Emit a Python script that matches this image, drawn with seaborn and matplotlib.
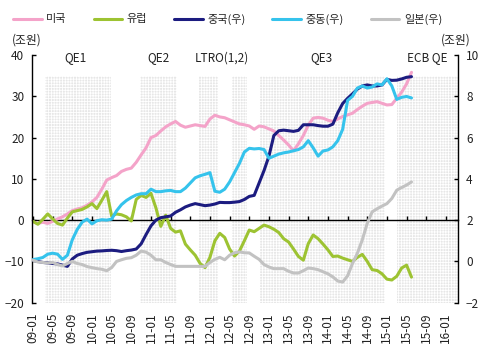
import numpy as np
import pandas as pd
import matplotlib
matplotlib.use("Agg")
import matplotlib.pyplot as plt
import seaborn as sns

# ---------------- data (monthly, 2009-01 .. 2015-06) ----------------
usa = [-0.4, -0.8, -0.5, -0.8, -0.3, 0.3, 0.8, 1.5, 2.3, 2.7, 3.0, 3.6, 4.4, 5.5, 7.5, 9.7,
       10.3, 10.8, 11.8, 12.3, 12.6, 14.0, 15.8, 17.5, 20.0, 20.5, 21.6, 22.6, 23.3, 23.9,
       23.0, 22.5, 22.8, 23.1, 22.9, 22.7, 24.5, 25.4, 25.0, 24.8, 24.3, 23.8, 23.3, 23.1,
       22.8, 22.0, 22.8, 22.6, 22.1, 21.6, 20.5, 19.4, 18.2, 16.8, 18.5, 20.5, 23.0, 24.7,
       24.9, 24.7, 24.2, 23.9, 24.5, 25.1, 25.5, 25.9, 26.8, 27.6, 28.3, 28.5, 28.7, 28.3,
       27.9, 28.0, 29.5, 31.0, 33.0, 35.8]
europe = [-0.3, -1.0, 0.2, 1.5, 0.3, -0.8, -1.2, 0.5, 2.0, 2.3, 2.6, 3.2, 4.0, 2.8, 4.8, 6.9,
          1.0, 1.5, 1.3, 0.8, -0.2, 5.0, 6.0, 5.5, 6.5, 3.0, -1.5, 1.2, -2.0, -2.9,
          -2.6, -5.8, -7.2, -8.5, -10.5, -11.5, -9.0, -5.0, -3.2, -4.2, -7.0, -8.7, -7.5, -5.0,
          -2.4, -2.8, -2.0, -1.2, -1.6, -2.2, -3.0, -4.5, -5.3, -7.0, -8.8, -9.7, -5.7, -3.6,
          -4.5, -5.8, -7.2, -8.8, -8.7, -9.2, -9.6, -10.0, -9.0, -8.3, -10.0, -12.0, -12.2, -13.0,
          -14.3, -14.5, -13.6, -11.6, -10.9, -13.8]
china = [0.06, 0.0, -0.05, -0.07, -0.1, -0.12, -0.18, -0.24, 0.12, 0.3, 0.38, 0.44, 0.47, 0.5,
         0.51, 0.53, 0.54, 0.52, 0.48, 0.52, 0.55, 0.6, 0.85, 1.3, 1.72, 2.0, 2.12, 2.16, 2.2,
         2.38, 2.5, 2.64, 2.73, 2.8, 2.75, 2.7, 2.73, 2.78, 2.86, 2.85, 2.85, 2.87, 2.9, 3.0,
         3.15, 3.2, 3.8, 4.4, 5.1, 6.1, 6.33, 6.36, 6.33, 6.3, 6.35, 6.62, 6.62, 6.62, 6.58,
         6.55, 6.55, 6.65, 7.2, 7.65, 7.9, 8.12, 8.35, 8.5, 8.55, 8.5, 8.5, 8.55, 8.82, 8.77,
         8.78, 8.84, 8.92, 8.95]
mideast = [0.09, 0.13, 0.19, 0.35, 0.4, 0.35, 0.1, 0.3, 1.05, 1.55, 1.9, 2.05, 1.82, 1.97,
           2.02, 2.0, 2.05, 2.45, 2.75, 2.95, 3.1, 3.22, 3.28, 3.28, 3.5, 3.38, 3.38, 3.42,
           3.44, 3.38, 3.38, 3.55, 3.8, 4.05, 4.15, 4.22, 4.3, 3.4, 3.35, 3.5, 3.85, 4.3, 4.75,
           5.3, 5.48, 5.45, 5.47, 5.42, 5.0, 5.1, 5.2, 5.26, 5.3, 5.36, 5.42, 5.55, 5.85, 5.5,
           5.1, 5.35, 5.4, 5.55, 5.85, 6.4, 7.8, 8.0, 8.4, 8.5, 8.4, 8.45, 8.6, 8.55, 8.85,
           8.5, 7.85, 7.95, 7.99, 7.92]
japan = [0.06, -0.03, -0.05, -0.08, -0.05, -0.15, -0.22, -0.1, 0.0, -0.1, -0.15, -0.25, -0.3,
         -0.35, -0.38, -0.45, -0.3, 0.0, 0.08, 0.15, 0.18, 0.3, 0.5, 0.45, 0.3, 0.08, 0.08,
         -0.05, -0.15, -0.24, -0.24, -0.24, -0.24, -0.24, -0.24, -0.24, -0.05, 0.1, 0.2, 0.08,
         0.3, 0.42, 0.46, 0.42, 0.41, 0.25, 0.1, -0.15, -0.27, -0.35, -0.35, -0.35, -0.48,
         -0.56, -0.56, -0.45, -0.32, -0.35, -0.4, -0.5, -0.6, -0.75, -0.95, -1.0, -0.7, -0.1,
         0.4, 1.05, 1.85, 2.4, 2.55, 2.68, 2.8, 3.05, 3.45, 3.58, 3.7, 3.85]

months = list(range(len(usa)))
tick_labels = ["09-01", "09-05", "09-09", "10-01", "10-05", "10-09", "11-01", "11-05",
               "11-09", "12-01", "12-05", "12-09", "13-01", "13-05", "13-09", "14-01",
               "14-05", "14-09", "15-01", "15-05", "15-09", "16-01"]
event_names = ["QE1", "QE2", "LTRO(1,2)", "QE3", "ECB QE"]
event_label_x = [8.6, 25.6, 38.4, 58.7, 80.3]
shade_start = [2.5, 21.8, 33.7, 40.4, 46.1, 74.0]
shade_end = [15.9, 29.2, 37.6, 43.5, 71.7, 86.4]

names = ["미국", "유럽", "중국(우)", "중동(우)", "일본(우)"]
colors = ["#F4A3C9", "#9DC332", "#1C1C80", "#35C3EC", "#C2C2C2"]

df = pd.DataFrame({"m": months, "미국": usa, "유럽": europe, "중국(우)": china,
                   "중동(우)": mideast, "일본(우)": japan})

# ---------------- style ----------------
sns.set_theme(style="white")
plt.rcParams["font.family"] = ["Noto Sans CJK KR", "DejaVu Sans"]
plt.rcParams["hatch.linewidth"] = 0.6
FS = 8.5
TXT = "#222222"

fig = plt.figure(figsize=(4.88, 3.54), dpi=100)
ax = fig.add_axes([32 / 488, 1 - 302.7 / 354, (457.7 - 32) / 488, (302.7 - 55) / 354])
ax.set_facecolor("none")
ax2 = ax.twinx()

ax.set_xlim(-0.2, 86.4)
ax.set_ylim(-20, 40)
ax2.set_ylim(-2, 10)

# shaded periods
for s, e in zip(shade_start, shade_end):
    ax.axvspan(s, e, ymin=0, ymax=55 / 60, facecolor="#e7e7e7", edgecolor="white",
               hatch="++++++", linewidth=0, zorder=0)

# lines
lw = 2.2
for n, c in zip(names[:2], colors[:2]):
    sns.lineplot(data=df, x="m", y=n, ax=ax, color=c, linewidth=lw, label=n, legend=False)
for n, c in zip(names[2:], colors[2:]):
    sns.lineplot(data=df, x="m", y=n, ax=ax2, color=c, linewidth=lw, label=n, legend=False)

ax.set_xlabel("")
ax.set_ylabel("")
ax2.set_ylabel("")

# axes styling
for sp in ["top", "bottom", "right"]:
    ax.spines[sp].set_visible(False)
for sp in ["top", "bottom", "left"]:
    ax2.spines[sp].set_visible(False)
ax.spines["left"].set_color("black")
ax.spines["left"].set_linewidth(1.0)
ax2.spines["right"].set_color("black")
ax2.spines["right"].set_linewidth(1.0)

ax.set_yticks(range(-20, 41, 10))
ax.tick_params(axis="y", direction="in", length=3, width=1, color="black",
               labelsize=FS, labelcolor=TXT, pad=5.5, left=True)
ax2.set_yticks(range(-2, 11, 2))
ax2.tick_params(axis="y", direction="in", length=3, width=1, color="black",
                labelsize=FS, labelcolor=TXT, pad=6, right=True)

ax.set_xticks(range(0, 85, 4))
ax.set_xticklabels(tick_labels, rotation=90)
ax.tick_params(axis="x", length=0, labelsize=FS, labelcolor=TXT, pad=7)

# zero line with tick marks
sec = ax.secondary_xaxis(1 / 3)
sec.set_xticks(range(0, 85, 4))
sec.tick_params(axis="x", direction="in", length=3, width=1, color="black",
                labelbottom=False, labeltop=False)
for sp in sec.spines.values():
    sp.set_color("black")
    sp.set_linewidth(1.0)

# event labels
for name, xpos in zip(event_names, event_label_x):
    ax.text(xpos, 39.3, name, ha="center", va="center", fontsize=FS, color=TXT)

# unit labels
fig.text(27 / 488, 1 - 40 / 354, "(조원)", ha="center", va="center", fontsize=FS, color=TXT)
fig.text(456 / 488, 1 - 40 / 354, "(조원)", ha="center", va="center", fontsize=FS, color=TXT)

# legend
h1, l1 = ax.get_legend_handles_labels()
h2, l2 = ax2.get_legend_handles_labels()
fig.legend(h1 + h2, l1 + l2, loc="center left", bbox_to_anchor=(13 / 488, 1 - 19 / 354),
           ncol=5, frameon=False, fontsize=8, handlelength=2.6, handletextpad=0.4,
           columnspacing=2.4, borderpad=0, borderaxespad=0)

fig.savefig("out.png", dpi=100)
